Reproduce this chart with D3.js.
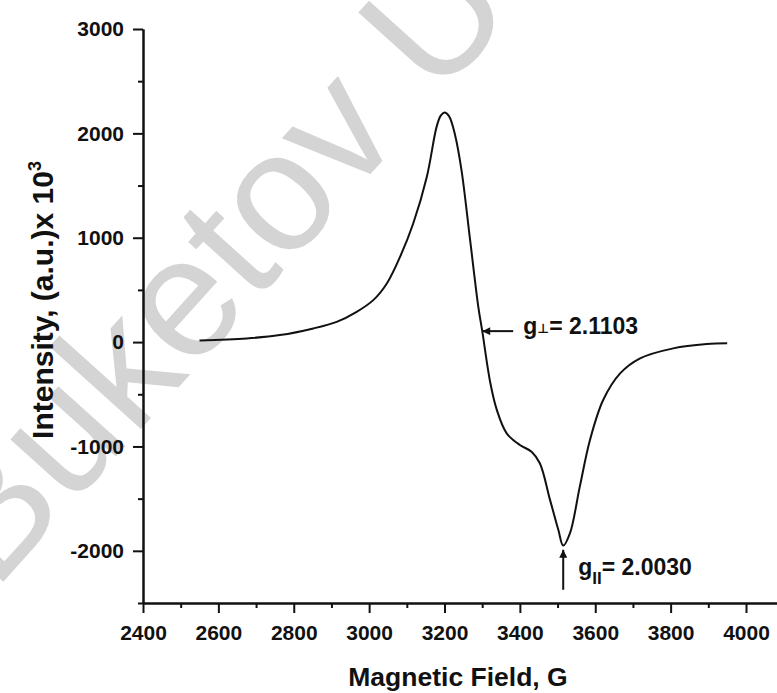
<!DOCTYPE html>
<html lang="en">

<head>
  <meta charset="utf-8">
  <title>EPR spectrum</title>
  <script src="https://cdn.jsdelivr.net/npm/d3@7"></script>
  <style>
    body {
      margin: 0;
      background: #fff;
    }

    .axis path,
    .axis line {
      fill: none;
      stroke: #111;
      stroke-width: 2px;
    }

    .axis text {
      font-family: "Liberation Sans", Arial, sans-serif;
      font-weight: bold;
      font-size: 21px;
      fill: #111;
    }

    .label {
      font-family: "Liberation Sans", Arial, sans-serif;
      font-weight: bold;
      fill: #111;
    }
  </style>
</head>

<body>
  <div id="svgBox"></div>
  <script>
    // spectrum
    const field = [2550, 2675, 2763, 2852, 2914, 2967, 3011, 3047, 3082, 3117, 3153, 3179, 3190, 3200,
      3212, 3228, 3245, 3268, 3290, 3300, 3321, 3338, 3365, 3400, 3431, 3453, 3480, 3502, 3515, 3533,
      3559, 3586, 3621, 3666, 3719, 3807, 3896, 3950]
    const intensity = [15, 35, 67, 131, 194, 290, 402, 562, 816, 1136, 1582, 2062, 2170, 2200,
      2165, 1985, 1650, 976, 330, 110, -380, -640, -874, -986, -1050, -1161, -1512, -1799, -1950, -1831,
      -1385, -938, -555, -300, -156, -60, -19, -12]

    const xTicks = [2400, 2600, 2800, 3000, 3200, 3400, 3600, 3800, 4000]
    const xMinor = [2500, 2700, 2900, 3100, 3300, 3500, 3700, 3900, 4100]
    const yTicks = [-2000, -1000, 0, 1000, 2000, 3000]
    const yMinor = [-2500, -1500, -500, 500, 1500, 2500]

    // g values with the field / intensity where the arrows point
    const gPerp = { text: '2.1103', field: 3300, value: 105 }
    const gPar = { text: '2.0030', field: 3515, value: -1990 }

    const svgWidth = 777
    const svgHeight = 693

    const x = d3.scaleLinear().domain([2400, 4100]).range([143, 143 + 1700 * 0.376875])
    const y = d3.scaleLinear().domain([-2500, 3000]).range([603, 29])

    const eleSvg = d3.select('#svgBox')
      .append('svg')
      .attr('width', svgWidth)
      .attr('height', svgHeight)

    eleSvg.append('defs').append('marker')
      .attr('id', 'head')
      .attr('viewBox', '0 0 10 10')
      .attr('refX', 10)
      .attr('refY', 5)
      .attr('markerWidth', 10)
      .attr('markerHeight', 8)
      .attr('markerUnits', 'userSpaceOnUse')
      .attr('orient', 'auto')
      .append('path')
      .attr('d', 'M0,0L10,5L0,10Z')
      .attr('fill', '#111')

    // watermark behind everything
    eleSvg.append('text')
      .attr('transform', 'translate(-6,592) rotate(-48)')
      .attr('font-family', '"Liberation Sans", Arial, sans-serif')
      .attr('font-size', 170)
      .attr('fill', '#d4d4d4')
      .text('Buketov University')

    // axes
    eleSvg.append('g')
      .attr('class', 'axis')
      .attr('transform', 'translate(0,' + y(-2500) + ')')
      .call(d3.axisBottom(x).tickValues(xMinor).tickSize(5).tickSizeOuter(0).tickFormat(''))

    eleSvg.append('g')
      .attr('class', 'axis')
      .attr('transform', 'translate(0,' + y(-2500) + ')')
      .call(d3.axisBottom(x).tickValues(xTicks).tickSize(10).tickSizeOuter(0).tickPadding(12).tickFormat(d3.format('d')))

    eleSvg.append('g')
      .attr('class', 'axis')
      .attr('transform', 'translate(' + x(2400) + ',0)')
      .call(d3.axisLeft(y).tickValues(yMinor).tickSize(5).tickSizeOuter(0).tickFormat(''))

    eleSvg.append('g')
      .attr('class', 'axis')
      .attr('transform', 'translate(' + x(2400) + ',0)')
      .call(d3.axisLeft(y).tickValues(yTicks).tickSize(10).tickSizeOuter(0).tickPadding(9).tickFormat(d3.format('d')))

    eleSvg.selectAll('.axis text').text(function () {
      return this.textContent.replace('\u2212', '-')
    })

    // spectrum line
    const line = d3.line()
      .x((d, i) => x(field[i]))
      .y((d, i) => y(intensity[i]))
      .curve(d3.curveCatmullRom.alpha(0.5))

    eleSvg.append('path')
      .datum(field)
      .attr('d', line)
      .attr('fill', 'none')
      .attr('stroke', '#111')
      .attr('stroke-width', 2)

    // axis titles
    eleSvg.append('text')
      .attr('class', 'label')
      .attr('x', 458)
      .attr('y', 686)
      .attr('text-anchor', 'middle')
      .attr('font-size', 26.5)
      .text('Magnetic Field, G')

    const yTitle = eleSvg.append('text')
      .attr('class', 'label')
      .attr('transform', 'translate(53,300) rotate(-90)')
      .attr('text-anchor', 'middle')
      .attr('font-size', 30)
    yTitle.append('tspan').text('Intensity, (a.u.)x 10')
    yTitle.append('tspan').attr('font-size', 18).attr('dy', -12).text('3')

    // g perpendicular annotation
    const px = x(gPerp.field)
    const py = y(gPerp.value)
    eleSvg.append('line')
      .attr('x1', px + 31).attr('y1', py)
      .attr('x2', px).attr('y2', py)
      .attr('stroke', '#111')
      .attr('stroke-width', 2)
      .attr('marker-end', 'url(#head)')
    const perpText = eleSvg.append('text')
      .attr('class', 'label')
      .attr('x', px + 41)
      .attr('y', py + 3)
      .attr('font-size', 23)
    perpText.append('tspan').text('g')
    perpText.append('tspan').attr('font-size', 13).attr('font-family', 'DejaVu Sans').attr('dy', -1).text('\u22a5')
    perpText.append('tspan').attr('dy', 1).text('= ' + gPerp.text)

    // g parallel annotation
    const qx = x(gPar.field)
    const qy = y(gPar.value)
    eleSvg.append('line')
      .attr('x1', qx).attr('y1', qy + 40)
      .attr('x2', qx).attr('y2', qy)
      .attr('stroke', '#111')
      .attr('stroke-width', 2)
      .attr('marker-end', 'url(#head)')
    const parText = eleSvg.append('text')
      .attr('class', 'label')
      .attr('x', qx + 15)
      .attr('y', qy + 25)
      .attr('font-size', 23)
    parText.append('tspan').text('g')
    parText.append('tspan').attr('font-size', 17).attr('dy', 9).text('II')
    parText.append('tspan').attr('dy', -9).text('= ' + gPar.text)
  </script>
</body>

</html>
